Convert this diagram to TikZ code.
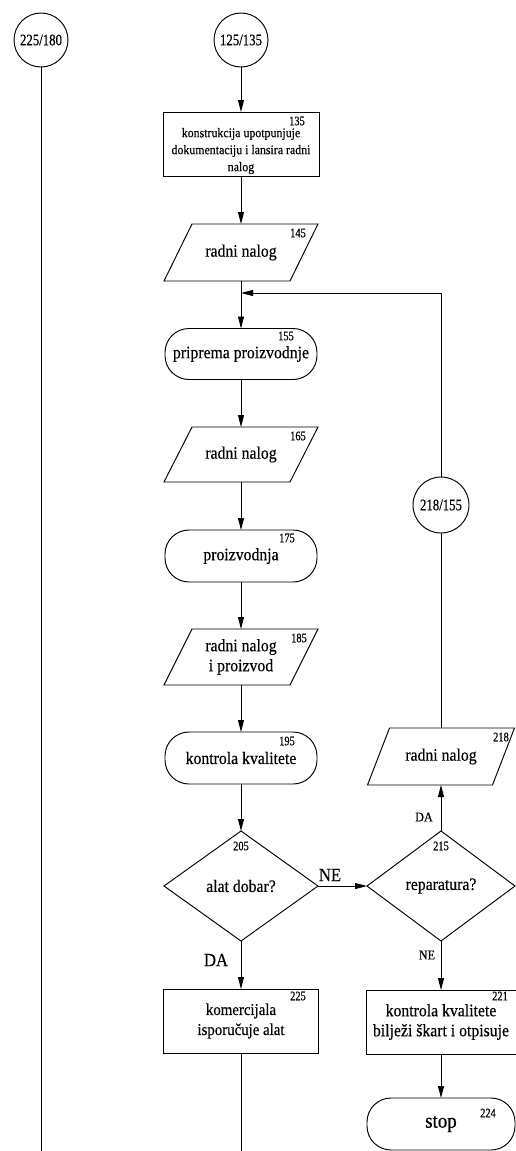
\documentclass[tikz,border=0pt]{standalone}
\usepackage{fontspec}
\setmainfont{Liberation Serif}[FakeStretch=0.9,FakeBold=0.4]
\newfontfamily\condfont{Liberation Serif}[FakeStretch=0.8,FakeBold=0.5]
\usetikzlibrary{shapes.geometric,arrows.meta,calc}
\begin{document}
\begin{tikzpicture}[x=1pt,y=-1pt,
  every node/.style={inner sep=0pt, outer sep=0pt},
  base/.style={line width=0.95pt},
  conn/.style={draw, circle, base, minimum size=54pt, font=\condfont\fontsize{16}{16}\selectfont},
  procbox/.style={draw, base, rectangle},
  termbox/.style={draw, base, rectangle, rounded corners=24pt, minimum width=152pt, minimum height=51pt, txt},
  pgbox/.style={rectangle, txt},
  decbox/.style={draw, base, diamond, minimum height=110pt, txt},
  txt/.style={font=\fontsize{17.5}{20}\selectfont, align=center},
  num/.style={font=\condfont\fontsize{13}{13}\selectfont},
  biglab/.style={font=\fontsize{18.5}{19}\selectfont},
  smalllab/.style={font=\fontsize{13.5}{14}\selectfont},
  arr/.style={base, -{Triangle[length=12pt,width=6pt]}},
]
\useasboundingbox (0,0) rectangle (516,1151);

% connectors (circles)
\node[conn] (c1) at (41,40) {225/180};
\node[conn] (c2) at (241,40) {125/135};
\node[conn, minimum size=56pt] (c218) at (441,505) {218/155};

% 135
\node[procbox, minimum width=156pt, minimum height=64pt] (b135) at (241,144) {};
\node[font=\fontsize{13.2}{17}\selectfont, align=center] (t135) at (241,151) {konstrukcija upotpunjuje\\dokumentaciju i lansira radni\\nalog};
\node[num] (n135) at (297,121) {135};

% 145
\node[pgbox, minimum width=126pt, minimum height=57pt] (p145) at (241,252.5) {radni nalog};
\draw[base] ($(p145.north west)+(14,0)$) -- ($(p145.north east)+(14,0)$) -- ($(p145.south east)+(-14,0)$) -- ($(p145.south west)+(-14,0)$) -- cycle;
\node[num] (n145) at (298,233) {145};

% 155
\node[termbox] (r155) at (241,354) {priprema proizvodnje};
\node[num] (n155) at (286,336) {155};

% 165
\node[pgbox, minimum width=126pt, minimum height=55pt] (p165) at (241,454.5) {radni nalog};
\draw[base] ($(p165.north west)+(14,0)$) -- ($(p165.north east)+(14,0)$) -- ($(p165.south east)+(-14,0)$) -- ($(p165.south west)+(-14,0)$) -- cycle;
\node[num] (n165) at (298,436) {165};

% 175
\node[termbox, minimum height=52pt] (r175) at (241,556) {proizvodnja};
\node[num] (n175) at (287,538) {175};

% 185
\node[pgbox, minimum width=126pt, minimum height=56pt] (p185) at (241,657) {radni nalog\\i proizvod};
\draw[base] ($(p185.north west)+(14,0)$) -- ($(p185.north east)+(14,0)$) -- ($(p185.south east)+(-14,0)$) -- ($(p185.south west)+(-14,0)$) -- cycle;
\node[num] (n185) at (299,638) {185};

% 195
\node[termbox, minimum height=52pt] (r195) at (241,758) {kontrola kvalitete};
\node[num] (n195) at (287,741) {195};

% 205
\node[decbox, minimum width=154pt] (d205) at (241,886) {alat dobar?};
\node[num] (n205) at (241,846) {205};

% 215
\node[decbox, minimum width=148pt] (d215) at (441,886) {reparatura?};
\node[num] (n215) at (441,846) {215};

% 218
\node[pgbox, minimum width=125pt, minimum height=57pt] (p218) at (441,756.5) {radni nalog};
\draw[base] ($(p218.north west)+(11,0)$) -- ($(p218.north east)+(11,0)$) -- ($(p218.south east)+(-11,0)$) -- ($(p218.south west)+(-11,0)$) -- cycle;
\node[num] (n218) at (501,737) {218};

% 225
\node[procbox, minimum width=155pt, minimum height=64pt, font=\fontsize{16.5}{20}\selectfont, align=center] (b225) at (241,1021) {komercijala\\isporučuje alat};
\node[num] (n225) at (298,996) {225};

% 221
\node[procbox, minimum width=150pt, minimum height=64pt, txt] (b221) at (441,1022) {kontrola kvalitete\\bilježi škart i otpisuje};
\node[num] (n221) at (500,996) {221};

% 224
\node[termbox, minimum width=148pt, minimum height=52pt, font=\fontsize{21}{22}\selectfont] (stop) at (441,1124) {stop};
\node[num] (n224) at (488,1113) {224};

% labels
\node[biglab] (lne1) at (330,875) {NE};
\node[biglab] (lda1) at (216,960) {DA};
\node[smalllab] (lda2) at (424,817) {DA};
\node[smalllab] (lne2) at (427,955) {NE};

% coordinates
\coordinate (j1) at (241,293);
\coordinate (k1) at (441,293);
\coordinate (e0) at (41,1151);
\coordinate (e1) at (241,1151);

% edges
\draw[base] (c1) -- (e0);
\draw[arr] (c2) -- (b135);
\draw[arr] (b135) -- (p145);
\draw[arr] (p145) -- (r155);
\draw[arr] (r155) -- (p165);
\draw[arr] (p165) -- (r175);
\draw[arr] (r175) -- (p185);
\draw[arr] (p185) -- (r195);
\draw[arr] (r195) -- (d205);
\draw[arr] (d205) -- (d215);
\draw[arr] (d205) -- (b225);
\draw[base] (b225) -- (e1);
\draw[arr] (d215) -- (p218);
\draw[arr] (d215) -- (b221);
\draw[arr] (b221) -- (stop);
\draw[base] (p218) -- (c218);
\draw[arr] (c218) -- (k1) -- (j1);
\end{tikzpicture}
\end{document}
